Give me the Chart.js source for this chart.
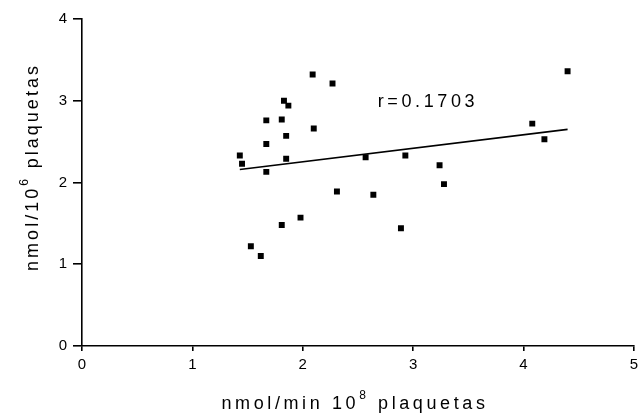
<!DOCTYPE html>
<html>
<head>
<meta charset="utf-8">
<script src="https://cdn.jsdelivr.net/npm/chart.js@4"></script>
<style>
  html, body { margin: 0; padding: 0; background: #fff; }
  #wrap { width: 638px; height: 418px; }
</style>
</head>
<body>
<div id="wrap"><canvas id="chart" width="638" height="418"></canvas></div>
<script>
const xValues = [4.40, 2.09, 2.27, 1.83, 1.87, 1.67, 1.81, 2.10, 1.85, 1.67, 4.08, 4.19, 1.43, 1.45, 1.85, 1.67, 2.57, 2.93, 3.24, 3.28, 2.31, 2.64, 1.98, 1.81, 2.89, 1.53, 1.62];
const yValues = [3.36, 3.32, 3.21, 3.00, 2.94, 2.76, 2.77, 2.66, 2.57, 2.47, 2.72, 2.53, 2.33, 2.23, 2.29, 2.13, 2.31, 2.33, 2.21, 1.98, 1.89, 1.85, 1.57, 1.48, 1.44, 1.22, 1.10];
const trendX = [1.43, 4.40];
const trendY = [2.16, 2.65];
const xTicks = [0, 1, 2, 3, 4, 5];
const yTicks = [0, 1, 2, 3, 4];
const rLabel = 'r=0.1703';
const rPos = [2.68, 2.98];

const FONT = 'Liberation Sans, Arial, sans-serif';

const points = xValues.map((x, i) => ({ x: x, y: yValues[i] }));
const trend = trendX.map((x, i) => ({ x: x, y: trendY[i] }));

// draw text one char at a time so the wide letter spacing of the original shows
function spacedWidth(ctx, text, gap) {
  let w = 0;
  for (const ch of text) w += ctx.measureText(ch).width + gap;
  return w;
}
function drawSpaced(ctx, text, x, y, gap) {
  for (const ch of text) {
    ctx.fillText(ch, x, y);
    x += ctx.measureText(ch).width + gap;
  }
  return x;
}
function drawParts(ctx, parts, x, y, gap) {
  parts.forEach(p => {
    ctx.font = p[1] + 'px ' + FONT;
    x = drawSpaced(ctx, p[0], x, y + p[2], gap);
  });
}
function partsWidth(ctx, parts, gap) {
  let w = 0;
  parts.forEach(p => { ctx.font = p[1] + 'px ' + FONT; w += spacedWidth(ctx, p[0], gap); });
  return w;
}

const extras = {
  id: 'extras',
  afterDraw(chart) {
    const ctx = chart.ctx;
    const xs = chart.scales.x, ys = chart.scales.y;
    ctx.save();
    ctx.fillStyle = '#000';
    ctx.textBaseline = 'middle';
    ctx.textAlign = 'left';

    ctx.font = '18px ' + FONT;
    drawSpaced(ctx, rLabel, xs.getPixelForValue(rPos[0]), ys.getPixelForValue(rPos[1]), 3.6);

    // x title
    const parts = [['nmol/min 10', 18, 0], ['8', 12, -8], [' plaquetas', 18, 0]];
    let w = partsWidth(ctx, parts, 3.6);
    drawParts(ctx, parts, 355 - w / 2, 404, 3.6);

    // y title
    const yparts = [['nmol/10', 18, 0], ['6', 12, -8], [' plaquetas', 18, 0]];
    ctx.translate(33, 167);
    ctx.rotate(-Math.PI / 2);
    w = partsWidth(ctx, yparts, 3);
    drawParts(ctx, yparts, -w / 2, 0, 3);
    ctx.restore();
  }
};

const bgPlugin = {
  id: 'bg',
  beforeDraw(chart) {
    const ctx = chart.ctx;
    ctx.save();
    ctx.fillStyle = '#fff';
    ctx.fillRect(0, 0, chart.width, chart.height);
    ctx.restore();
  }
};

new Chart(document.getElementById('chart'), {
  type: 'scatter',
  data: {
    datasets: [
      {
        data: points,
        pointStyle: 'rect',
        pointRadius: 4.2,
        pointHoverRadius: 4.2,
        backgroundColor: '#000',
        borderColor: '#000',
        borderWidth: 0
      },
      {
        type: 'line',
        data: trend,
        borderColor: '#000',
        borderWidth: 1.6,
        pointRadius: 0,
        fill: false
      }
    ]
  },
  options: {
    responsive: false,
    animation: false,
    events: [],
    layout: { padding: { top: 19, right: 3, left: 0, bottom: 0 } },
    plugins: { legend: { display: false }, tooltip: { enabled: false } },
    scales: {
      x: {
        type: 'linear',
        min: 0, max: 5,
        afterBuildTicks(s) { s.ticks = xTicks.map(v => ({ value: v })); },
        afterFit(s) { s.height = 72; s.paddingRight = 0; },
        border: { color: '#000', width: 1.6 },
        grid: { drawOnChartArea: false, drawTicks: true, tickLength: 5, color: '#000', lineWidth: 1.6 },
        ticks: { color: '#000', font: { family: FONT, size: 15 }, padding: 5, maxRotation: 0 }
      },
      y: {
        type: 'linear',
        min: 0, max: 4,
        afterBuildTicks(s) { s.ticks = yTicks.map(v => ({ value: v })); },
        afterFit(s) { s.width = 82; },
        border: { color: '#000', width: 1.6 },
        grid: { drawOnChartArea: false, drawTicks: true, tickLength: 9, color: '#000', lineWidth: 1.6 },
        ticks: { color: '#000', font: { family: FONT, size: 15 }, padding: 6 }
      }
    }
  },
  plugins: [bgPlugin, extras]
});
</script>
</body>
</html>
